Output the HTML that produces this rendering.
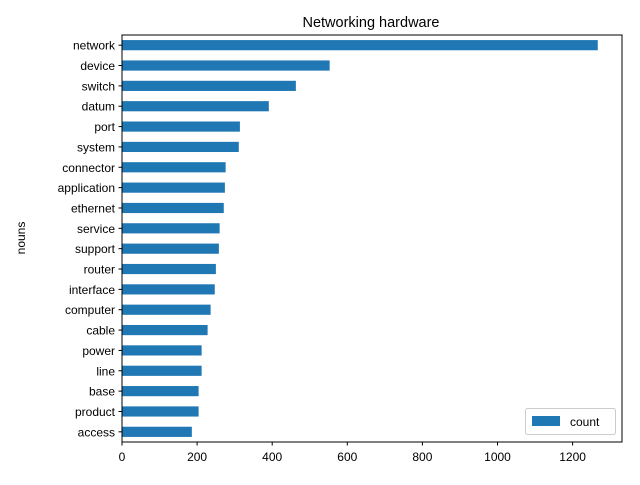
<!DOCTYPE html>
<html><head><meta charset="utf-8"><style>
body{margin:0;background:#fff;}
svg{font-family:"Liberation Sans","DejaVu Sans",sans-serif;}
</style></head><body>
<svg id="chart" width="640" height="480">
<text x="371" y="27" font-size="14.5" text-anchor="middle">Networking hardware</text>
<text transform="translate(25,238) rotate(-90)" font-size="12" text-anchor="middle">nouns</text>
<g id="bars"></g><g id="yticks"></g><g id="xticks"></g>
<rect x="122" y="35" width="500" height="407" fill="none" stroke="#000" stroke-width="1"/>
<g>
<rect x="525.5" y="408.5" width="90" height="26" rx="2" fill="#fff" stroke="#ccc"/>
<rect x="532" y="416" width="28" height="10" fill="#1f77b4"/>
<text x="570" y="426" font-size="12">count</text>
</g>
</svg>
<script>
const categories=["network","device","switch","datum","port","system","connector","application","ethernet","service","support","router","interface","computer","cable","power","line","base","product","access"];
const counts=[1267,553,463,391,314,311,276,274,271,260,258,250,247,236,228,212,212,204,204,186];
const xTicks=[0,200,400,600,800,1000,1200];
const NS="http://www.w3.org/2000/svg";
const L=122,T=35,B=442,scale=0.3755;
const band=(B-T)/categories.length;
const x=v=>L+v*scale;
const y=i=>T+band*(i+0.5);
const bars=document.getElementById('bars'),yt=document.getElementById('yticks'),xt=document.getElementById('xticks');
function mk(t,a){const e=document.createElementNS(NS,t);for(const k in a)e.setAttribute(k,a[k]);return e;}
categories.forEach((c,i)=>{
 const r=mk('rect',{x:x(0),y:y(i)-band/4,width:x(counts[i])-x(0),height:band/2,fill:'#1f77b4'});
 
 
 bars.appendChild(r);
 const tk=mk('line',{x1:L-3.5,x2:L,y1:y(i),y2:y(i),stroke:'#000'});
 yt.appendChild(tk);
 const t=mk('text',{x:L-7,y:y(i)+4.5,'font-size':12,'text-anchor':'end'});
 t.textContent=c;
 
 
 yt.appendChild(t);
});
xTicks.forEach(v=>{
 xt.appendChild(mk('line',{x1:x(v),x2:x(v),y1:B,y2:B+3.5,stroke:'#000'}));
 const t=mk('text',{x:x(v),y:B+19,'font-size':12,'text-anchor':'middle'});
 t.textContent=v;
 
 
 xt.appendChild(t);
});
</script>
</body></html>
